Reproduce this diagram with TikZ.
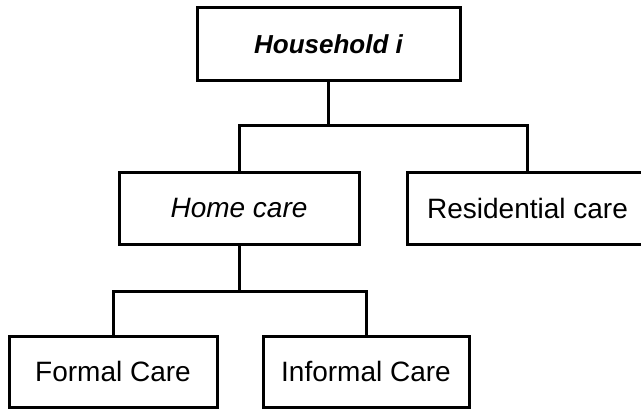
\documentclass[tikz,border=0pt]{standalone}
\usepackage{fontspec}
\setmainfont{Liberation Sans}
\begin{document}
\begin{tikzpicture}[x=0.75pt,y=-0.75pt,
  box/.style={draw,line width=2.25pt,rectangle,inner sep=0pt,minimum height=54pt,font=\fontsize{21}{25}\selectfont},
  conn/.style={line width=2.25pt}]
\useasboundingbox (0,0) rectangle (641,410);
\node[box,minimum width=197.25pt,font=\fontsize{19.5}{23}\selectfont\bfseries\itshape] (hh) at (328.5,44) {Household i};
\node[box,minimum width=180pt,font=\fontsize{21}{25}\selectfont\itshape] (hc) at (239,208) {Home care};
\node[box,minimum width=186pt] (rc) at (531,208) {Residential care\hspace*{5.25pt}};
\node[box,minimum width=156pt,minimum height=53.25pt] (fc) at (113,371.5) {Formal Care};
\node[box,minimum width=154.5pt,minimum height=53.25pt] (ic) at (366,371.5) {Informal Care};
\coordinate (j1) at (328.5,125);
\coordinate (j2) at (239,291);
\draw[conn] (hh.south) -- (j1);
\draw[conn] (hc.north) |- (j1) -| ([xshift=-3pt]rc.north);
\draw[conn] (hc.south) -- (j2);
\draw[conn] (fc.north) |- (j2) -| (ic.north);
\end{tikzpicture}
\end{document}
